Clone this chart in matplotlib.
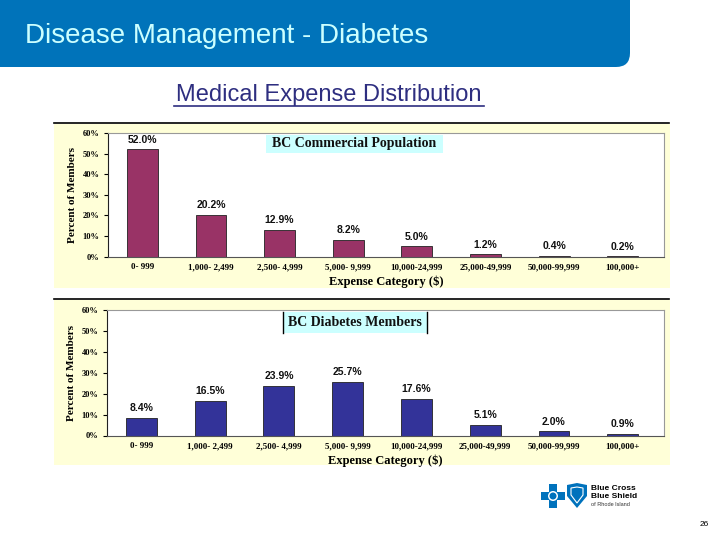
import matplotlib
matplotlib.use("Agg")
import matplotlib.pyplot as plt
from matplotlib.patches import FancyBboxPatch, Rectangle, Polygon, Circle

categories = ["0- 999", "1,000- 2,499", "2,500- 4,999", "5,000- 9,999",
              "10,000-24,999", "25,000-49,999", "50,000-99,999", "100,000+"]
commercial = [52.0, 20.2, 12.9, 8.2, 5.0, 1.2, 0.4, 0.2]
diabetes = [8.4, 16.5, 23.9, 25.7, 17.6, 5.1, 2.0, 0.9]
yticks = [0, 10, 20, 30, 40, 50, 60]

SERIF = "Liberation Serif"
SANS = "Liberation Sans"

fig = plt.figure(figsize=(7.2, 5.4), dpi=100)

# page background drawn in pixel coordinates
bg = fig.add_axes([0, 0, 1, 1])
bg.set_xlim(0, 720)
bg.set_ylim(540, 0)
bg.axis("off")

# header band
bg.add_patch(FancyBboxPatch((-30, -30), 660, 97, boxstyle="round,pad=0,rounding_size=14",
                            fc="#0073BA", ec="none"))
bg.text(25, 36, "Disease Management - Diabetes", fontsize=20, color="#CCFFFF",
        family=SANS, va="center", ha="left")
bg.text(329, 95, "Medical Expense Distribution", fontsize=17, color="#2E2E80",
        family=SANS, va="center", ha="center")
bg.plot([174, 484], [106, 106], color="#2E2E80", lw=1.2)

# chart panels (yellow background + black top rule)
for top, bottom in [(123, 288), (299, 465)]:
    bg.add_patch(Rectangle((54, top + 1), 616, bottom - top - 1, fc="#FFFFD8", ec="none"))
    bg.plot([54, 669], [top, top], color="black", lw=1.2)

# logo
blue = "#0072BC"
bg.add_patch(Rectangle((549, 484), 8, 24, fc=blue, ec="none"))
bg.add_patch(Rectangle((541, 492), 24, 8, fc=blue, ec="none"))
bg.add_patch(Circle((553, 496), 5, fc="white", ec="none"))
bg.add_patch(Circle((553, 496), 3.5, fc=blue, ec="none"))
bg.add_patch(Polygon([(567, 485), (577, 483), (587, 485), (587, 496), (577, 508), (567, 496)],
                     closed=True, fc=blue, ec="none"))
bg.add_patch(Polygon([(571, 488), (577, 487), (583, 488), (583, 495), (577, 503), (571, 495)],
                     closed=True, fc="none", ec="white", lw=0.8))
bg.text(591, 489, "Blue Cross", fontsize=6, fontweight="bold", family=SANS, va="center")
bg.text(591, 497, "Blue Shield", fontsize=6, fontweight="bold", family=SANS, va="center")
bg.text(591, 505, "of Rhode Island", fontsize=4, family=SANS, va="center", color="#333333")
bg.text(704, 525, "26", fontsize=6, family=SANS, va="center", ha="center")


def panel(rect, values, color, title, box, box_edges):
    ax = fig.add_axes(rect)
    x = range(len(values))
    ax.bar(x, values, width=0.45, color=color, edgecolor="#222222", linewidth=0.6)
    for i, v in zip(x, values):
        ax.text(i, v + 2.2, f"{v:.1f}%", ha="center", va="bottom", fontsize=7.5,
                family=SANS, fontweight="bold", color="#111111")
    ax.set_xlim(-0.5, 7.6)
    ax.set_ylim(0, 60)
    ax.set_yticks(yticks)
    ax.set_yticklabels([f"{t}%" for t in yticks], family=SERIF, fontsize=6, fontweight="bold")
    ax.set_xticks(list(x))
    ax.set_xticklabels(categories, family=SERIF, fontsize=6.5, fontweight="bold")
    ax.tick_params(axis="x", length=0, pad=5)
    ax.tick_params(axis="y", length=3, width=0.8, pad=3)
    for s in ["top", "right"]:
        ax.spines[s].set_color("#999999")
        ax.spines[s].set_linewidth(0.8)
    ax.spines["left"].set_color("#222222")
    ax.spines["bottom"].set_color("#555555")
    ax.set_ylabel("Percent of Members", family=SERIF, fontsize=8, fontweight="bold", labelpad=4)
    ax.set_xlabel("Expense Category ($)", family=SERIF, fontsize=9, fontweight="bold", labelpad=3)

    # chart title box
    x0, x1, y0, y1 = box
    ax.add_patch(Rectangle((x0, y0), x1 - x0, y1 - y0, transform=ax.transAxes,
                           fc="#CCFFFF", ec="none", zorder=3))
    if box_edges:
        for xe in (x0, x1):
            ax.plot([xe, xe], [y0, y1], transform=ax.transAxes, color="black", lw=1, zorder=4)
    ax.text((x0 + x1) / 2, (y0 + y1) / 2, title, transform=ax.transAxes, ha="center",
            va="center", family=SERIF, fontsize=10, fontweight="bold", color="#111111",
            zorder=5)
    return ax


panel([108 / 720, 1 - 256.5 / 540, 556 / 720, 123.5 / 540], commercial, "#993366",
      "BC Commercial Population", (0.284, 0.6025, 0.838, 0.984), False)
panel([107 / 720, 1 - 435.5 / 540, 557 / 720, 125.5 / 540], diabetes, "#333399",
      "BC Diabetes Members", (0.316, 0.5745, 0.817, 0.984), True)

fig.savefig("out.png", dpi=100)
